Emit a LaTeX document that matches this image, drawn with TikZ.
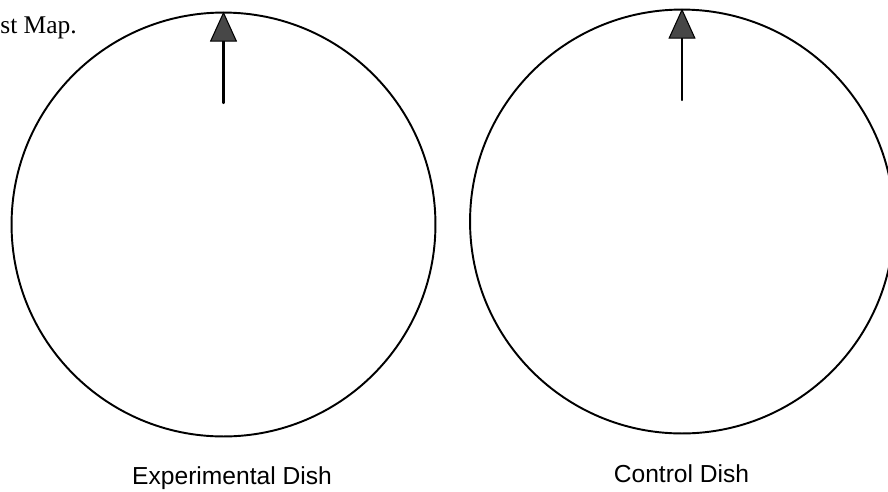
\documentclass[tikz,border=0pt]{standalone}
\usepackage{fontspec}
\usetikzlibrary{arrows.meta}
\newfontfamily\dishfont{Liberation Sans}
\newfontfamily\mapfont{Liberation Serif}

\begin{document}
\begin{tikzpicture}[x=0.02cm,y=-0.02cm,line cap=round,
  dish/.style={draw,circle,line width=1.1pt,minimum size=8.48cm,inner sep=0pt},
  pointer/.style={line width=1.2pt,-{Triangle[length=0.6cm,width=0.54cm,fill=black!72,line width=0.6pt]}},
  dishname/.style={anchor=base,font=\dishfont\fontsize{14}{16}\selectfont}]
\useasboundingbox (0,0) rectangle (888,491);
\node[anchor=base west,inner sep=0pt,font=\mapfont\fontsize{14.5}{16}\selectfont] (maptext) at (0,33) {st Map.};
\node[dish] (expdish) at (223.5,224.5) {};
\node[dish] (ctrldish) at (682,221.5) {};
\coordinate (expbase) at (223.5,103);
\coordinate (ctrlbase) at (682,100);
\draw[pointer] (expbase) -- (expdish.north);
\draw[pointer] (ctrlbase) -- (ctrldish.north);
\node[dishname] (explabel) at (232,484) {Experimental Dish};
\node[dishname] (ctrllabel) at (681.5,482) {Control Dish};
\end{tikzpicture}
\end{document}
